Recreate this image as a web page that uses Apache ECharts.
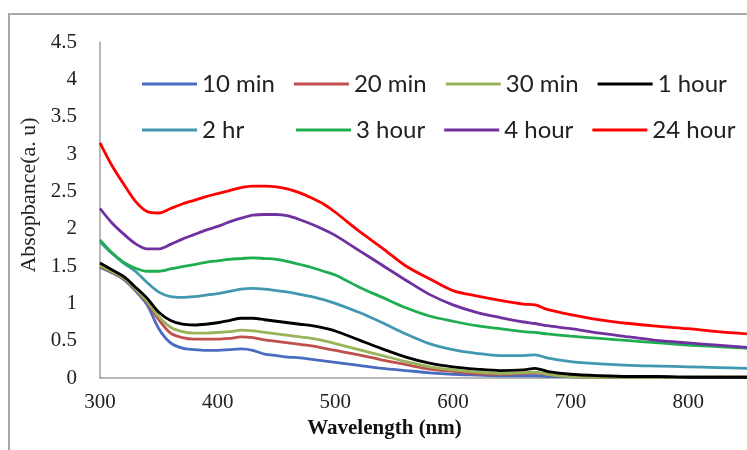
<!DOCTYPE html>
<html>
<head>
<meta charset="utf-8">
<script src="https://cdn.jsdelivr.net/npm/echarts@6/dist/echarts.min.js"></script>
<style>html,body{margin:0;padding:0;background:#fff}#c{width:747px;height:450px}</style>
</head>
<body>
<div id="c"></div>
<script>
const wavelengths = [300,310,320,330,340,350,360,370,380,390,400,410,420,430,440,450,460,470,480,490,500,520,540,560,580,600,620,640,660,670,680,700,725,750,775,800,825,850];
const seriesNames = ['10 min','20 min','30 min','1 hour','2 hr','3 hour','4 hour','24 hour'];
const min10  = [1.48,1.41,1.32,1.17,0.98,0.66,0.47,0.40,0.38,0.37,0.37,0.38,0.39,0.37,0.32,0.30,0.28,0.27,0.25,0.23,0.21,0.17,0.13,0.10,0.07,0.05,0.04,0.03,0.03,0.03,0.02,0.02,0.01,0.01,0.01,0.01,0.01,0.01];
const min20  = [1.49,1.42,1.33,1.19,1.01,0.78,0.60,0.54,0.52,0.52,0.52,0.53,0.55,0.54,0.51,0.49,0.47,0.45,0.43,0.40,0.37,0.31,0.24,0.18,0.12,0.09,0.06,0.05,0.06,0.07,0.05,0.02,0.01,0.01,0.01,0.01,0.01,0.01];
const min30  = [1.50,1.43,1.34,1.20,1.03,0.82,0.68,0.62,0.60,0.60,0.61,0.62,0.64,0.63,0.61,0.59,0.57,0.55,0.53,0.50,0.46,0.38,0.30,0.22,0.15,0.11,0.08,0.06,0.07,0.08,0.05,0.02,0.01,0.01,0.01,0.01,0.01,0.01];
const hour1  = [1.54,1.45,1.36,1.22,1.07,0.88,0.77,0.72,0.71,0.72,0.74,0.77,0.80,0.80,0.78,0.76,0.74,0.72,0.70,0.67,0.63,0.51,0.39,0.28,0.20,0.15,0.12,0.10,0.11,0.13,0.09,0.05,0.03,0.02,0.02,0.01,0.01,0.01];
const hr2    = [1.82,1.67,1.54,1.43,1.28,1.15,1.09,1.08,1.09,1.11,1.13,1.16,1.19,1.20,1.19,1.17,1.15,1.12,1.09,1.05,1.00,0.88,0.74,0.59,0.46,0.38,0.33,0.30,0.30,0.31,0.27,0.22,0.19,0.17,0.16,0.15,0.14,0.13];
const hour3  = [1.85,1.68,1.55,1.47,1.43,1.43,1.46,1.49,1.52,1.55,1.57,1.59,1.60,1.61,1.60,1.59,1.56,1.52,1.48,1.43,1.38,1.22,1.08,0.94,0.83,0.76,0.70,0.66,0.62,0.61,0.59,0.56,0.53,0.50,0.47,0.44,0.42,0.40];
const hour4  = [2.27,2.08,1.93,1.80,1.73,1.73,1.79,1.86,1.92,1.98,2.03,2.09,2.14,2.18,2.19,2.19,2.17,2.12,2.06,1.99,1.91,1.71,1.51,1.31,1.12,0.98,0.88,0.81,0.75,0.73,0.70,0.66,0.60,0.55,0.50,0.47,0.44,0.41];
const hour24 = [3.15,2.85,2.60,2.37,2.23,2.21,2.27,2.33,2.38,2.43,2.47,2.51,2.55,2.57,2.57,2.56,2.53,2.48,2.41,2.33,2.22,1.97,1.74,1.50,1.33,1.17,1.10,1.04,0.99,0.98,0.92,0.85,0.78,0.73,0.69,0.66,0.62,0.59];
const xTicks = [300,400,500,600,700,800];
const yTicks = [0,0.5,1,1.5,2,2.5,3,3.5,4,4.5];
const colors = ['#4a6cc0','#c0504d','#98b35a','#000000','#4198b0','#1fae4f','#7030a0','#ff0000'];

const allValues = [min10,min20,min30,hour1,hr2,hour3,hour4,hour24];
const series = allValues.map((vals,i)=>({
  name: seriesNames[i],
  type: 'line',
  symbol: 'none',
  smooth: 0.3,
  data: wavelengths.map((w,j)=>[w, vals[j]]),
  lineStyle: {color: colors[i], width: 2.8},
  itemStyle: {color: colors[i]},
  z: 2 + i
}));

const legendBase = {
  orient: 'horizontal',
  padding: 0,
  icon: 'rect',
  itemWidth: 55,
  itemHeight: 3,
  itemGap: 19,
  selectedMode: false,
  textStyle: {fontFamily: 'Lato', fontSize: 24, color: '#222', lineHeight: 28}
};

const chart = echarts.init(document.getElementById('c'));
chart.setOption({
  animation: false,
  backgroundColor: '#fff',
  graphic: [{
    type: 'rect', z: -10, silent: true,
    shape: {x: 9, y: 14, width: 800, height: 500},
    style: {fill: 'none', stroke: '#a8a8a8', lineWidth: 2}
  }],
  legend: [
    Object.assign({}, legendBase, {left: 142, top: 70, data: seriesNames.slice(0,4)}),
    Object.assign({}, legendBase, {left: 142, top: 116, data: seriesNames.slice(4,5)}),
    Object.assign({}, legendBase, {left: 296, top: 116, data: seriesNames.slice(5,8)})
  ],
  grid: {left: 100, right: 0, top: 42, bottom: 72, containLabel: false},
  xAxis: {
    type: 'value', min: 300, max: 850, interval: 100,
    name: 'Wavelength (nm)', nameLocation: 'middle', nameGap: 38,
    nameTextStyle: {fontFamily: 'Liberation Serif', fontWeight: 'bold', fontSize: 21, color: '#111', padding: [0,78,0,0]},
    axisLine: {show: true, lineStyle: {color: '#a0a0a0', width: 1.5}},
    axisTick: {show: false},
    splitLine: {show: false},
    axisLabel: {fontFamily: 'Liberation Serif', fontSize: 21, color: '#222', margin: 14, showMaxLabel: false,
      formatter: v => xTicks.includes(v) ? String(v) : ''}
  },
  yAxis: {
    type: 'value', min: 0, max: 4.5, interval: 0.5,
    name: 'Absopbance(a. u)', nameLocation: 'middle', nameGap: 60,
    nameTextStyle: {fontFamily: 'Liberation Serif', fontSize: 22, color: '#222', padding: [0,0,0,30]},
    axisLine: {show: true, lineStyle: {color: '#a0a0a0', width: 1.5}},
    axisTick: {show: false},
    splitLine: {show: false},
    axisLabel: {fontFamily: 'Liberation Serif', fontSize: 21, color: '#222', margin: 23,
      formatter: v => { const t = yTicks.find(y => Math.abs(y - v) < 1e-9); return t === undefined ? '' : String(t); }}
  },
  series: series
});
</script>
</body>
</html>
